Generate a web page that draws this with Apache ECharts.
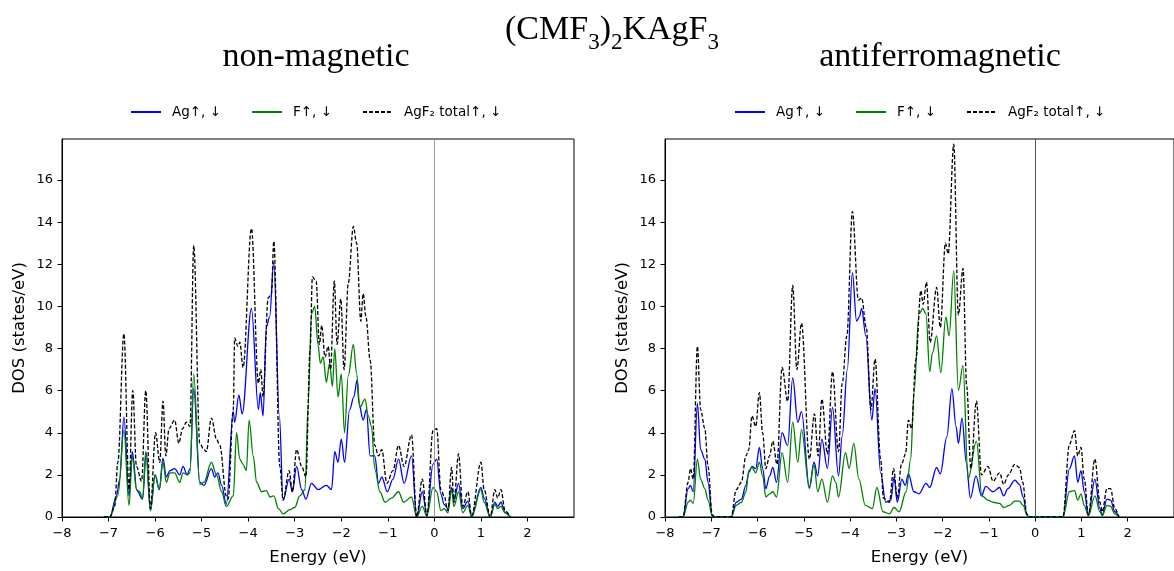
<!DOCTYPE html>
<html>
<head>
<meta charset="utf-8">
<script src="https://cdn.jsdelivr.net/npm/echarts@6/dist/echarts.min.js"></script>
<style>
  html, body { margin: 0; padding: 0; background: #fff; }
  #chart { width: 1174px; height: 571px; }
</style>
</head>
<body>
<div id="chart"></div>
<script>
// tick values
var xTicks = [-8, -7, -6, -5, -4, -3, -2, -1, 0, 1, 2];
var yTicks = [0, 2, 4, 6, 8, 10, 12, 14, 16];
var names = ['Ag\u2191, \u2193', 'F\u2191, \u2193', 'AgF\u2082 total\u2191, \u2193'];

// non-magnetic [energy, DOS]
var nmAg = [[-7.10,0],[-6.97,0],[-6.83,1.0],[-6.76,1.8],[-6.67,4.75],[-6.56,1.0],[-6.49,3.1],[-6.39,1.25],[-6.27,0.85],[-6.19,3.05],
  [-6.10,0.3],[-6.00,2.0],[-5.91,1.3],[-5.83,2.8],[-5.76,1.9],[-5.68,2.2],[-5.58,2.3],[-5.47,2.0],[-5.40,2.4],[-5.31,2.0],
  [-5.25,2.3],[-5.17,6.1],[-5.04,1.65],[-4.95,1.5],[-4.79,2.3],[-4.72,1.9],[-4.65,2.1],[-4.57,1.5],[-4.47,0.6],[-4.32,5.0],
  [-4.29,4.5],[-4.20,5.8],[-4.13,4.9],[-3.93,9.9],[-3.78,5.1],[-3.74,5.9],[-3.68,4.8],[-3.61,9.0],[-3.54,9.5],[-3.45,12.1],
  [-3.33,4.8],[-3.25,0.8],[-3.12,1.8],[-3.05,1.2],[-2.96,2.4],[-2.85,1.3],[-2.76,0.85],[-2.64,1.6],[-2.50,1.3],[-2.32,1.5],
  [-2.21,1.3],[-2.14,3.1],[-2.07,2.6],[-2.00,3.7],[-1.93,2.6],[-1.82,5.1],[-1.73,5.7],[-1.66,6.5],[-1.62,5.4],[-1.53,4.6],
  [-1.46,5.1],[-1.38,2.9],[-1.28,2.9],[-1.20,1.6],[-1.13,1.9],[-1.01,1.2],[-0.89,1.8],[-0.77,2.75],[-0.65,1.6],[-0.49,2.9],
  [-0.38,0],[-0.26,1.2],[-0.16,0.1],[-0.03,2.5],[0.05,2.75],[0.14,1.1],[0.21,0.6],[0.29,0.4],[0.37,1.4],[0.42,0.8],
  [0.52,1.6],[0.61,0.4],[0.72,0.75],[0.80,0.05],[1.00,1.4],[1.07,0.9],[1.20,0],[1.30,0.7],[1.36,0.5],[1.43,0.7],
  [1.52,0.2],[1.63,0]];
var nmF = [[-7.10,0],[-6.97,0],[-6.80,1.0],[-6.67,4.1],[-6.56,0.55],[-6.49,2.9],[-6.40,1.3],[-6.33,1.2],[-6.27,0.85],[-6.20,3.1],
  [-6.10,0.3],[-6.00,2.0],[-5.91,1.3],[-5.83,2.6],[-5.76,1.65],[-5.68,2.1],[-5.58,2.1],[-5.47,1.65],[-5.40,2.1],[-5.31,2.0],
  [-5.25,2.1],[-5.17,6.8],[-5.04,1.55],[-4.95,1.65],[-4.79,2.6],[-4.68,2.0],[-4.57,1.2],[-4.47,0.5],[-4.32,1.0],[-4.25,4.0],
  [-4.18,2.75],[-4.11,2.5],[-4.04,2.2],[-3.98,4.6],[-3.89,2.9],[-3.82,1.65],[-3.71,1.2],[-3.61,1.25],[-3.53,0.95],[-3.45,1.0],
  [-3.35,0.4],[-3.25,0.15],[-3.10,0.35],[-3.00,0.45],[-2.89,1.0],[-2.78,1.3],[-2.71,5.4],[-2.64,9.65],[-2.57,10.0],[-2.50,8.2],
  [-2.45,7.3],[-2.39,7.6],[-2.32,6.4],[-2.25,7.3],[-2.19,6.2],[-2.14,8.0],[-2.07,5.7],[-2.00,6.8],[-1.93,4.0],[-1.85,6.7],
  [-1.74,8.2],[-1.67,6.8],[-1.60,5.2],[-1.49,5.6],[-1.42,4.8],[-1.35,4.3],[-1.28,2.3],[-1.17,1.2],[-1.06,0.7],[-0.92,0.9],
  [-0.77,1.2],[-0.66,0.7],[-0.49,0.95],[-0.38,0],[-0.26,0.5],[-0.16,0.05],[-0.03,1.4],[0.05,1.2],[0.14,0.3],[0.21,0.4],
  [0.29,0.2],[0.37,1.3],[0.42,0.5],[0.52,1.2],[0.61,0.2],[0.72,0.55],[0.80,0],[1.00,1.3],[1.07,0.7],[1.20,0],
  [1.30,0.6],[1.36,0.4],[1.43,0.5],[1.52,0.2],[1.63,0]];
var nmTot = [[-7.10,0],[-6.97,0],[-6.87,0.5],[-6.80,2.6],[-6.67,8.7],[-6.56,1.3],[-6.48,6.0],[-6.40,2.4],[-6.29,1.7],[-6.20,6.0],
  [-6.10,0.4],[-5.99,4.0],[-5.90,2.6],[-5.83,5.5],[-5.77,2.9],[-5.70,4.2],[-5.58,4.6],[-5.49,3.5],[-5.41,4.2],[-5.33,4.5],
  [-5.25,4.3],[-5.17,12.9],[-5.04,3.5],[-4.95,3.2],[-4.90,3.1],[-4.79,4.7],[-4.68,3.7],[-4.61,3.4],[-4.47,1.0],[-4.43,0.85],
  [-4.32,5.1],[-4.29,8.5],[-4.22,8.1],[-4.18,8.3],[-4.11,7.1],[-3.93,13.7],[-3.78,6.35],[-3.73,7.0],[-3.68,5.7],[-3.57,10.4],
  [-3.50,10.6],[-3.45,13.1],[-3.32,2.4],[-3.25,0.8],[-3.12,2.2],[-3.05,1.2],[-2.96,3.2],[-2.85,2.4],[-2.76,1.9],[-2.67,7.9],
  [-2.62,11.4],[-2.54,11.2],[-2.47,8.2],[-2.42,9.1],[-2.35,7.6],[-2.28,8.1],[-2.23,7.0],[-2.15,11.2],[-2.09,8.2],[-2.01,10.35],
  [-1.94,7.0],[-1.85,11.1],[-1.74,13.8],[-1.67,13.0],[-1.58,9.3],[-1.53,10.6],[-1.47,9.5],[-1.38,7.45],[-1.28,3.4],[-1.20,2.9],
  [-1.13,3.2],[-1.02,1.6],[-0.89,2.2],[-0.77,3.4],[-0.65,2.4],[-0.49,3.9],[-0.38,0],[-0.26,1.8],[-0.16,0.05],[-0.03,4.1],
  [0.05,4.2],[0.14,1.3],[0.21,1.0],[0.29,0.3],[0.37,2.35],[0.42,0.7],[0.52,3.0],[0.61,0.5],[0.72,1.2],[0.80,0.05],
  [1.00,2.6],[1.07,1.3],[1.20,0],[1.30,1.3],[1.36,0.9],[1.43,1.3],[1.52,0.3],[1.63,0]];

// antiferromagnetic [energy, DOS]
var afAg = [[-7.70,0],[-7.61,0],[-7.50,1.35],[-7.45,1.5],[-7.39,1.2],[-7.30,5.4],[-7.23,3.2],[-7.14,2.75],[-7.07,1.65],[-6.98,0.1],
  [-6.93,0],[-6.57,0],[-6.46,0.7],[-6.35,0.85],[-6.25,1.5],[-6.19,2.1],[-6.12,2.4],[-6.04,2.3],[-5.96,3.3],[-5.89,2.3],
  [-5.82,1.35],[-5.74,1.95],[-5.67,2.35],[-5.59,1.65],[-5.47,4.0],[-5.35,3.4],[-5.24,6.6],[-5.13,4.5],[-5.05,5.0],[-4.88,1.4],
  [-4.78,2.6],[-4.70,1.95],[-4.61,3.7],[-4.49,2.3],[-4.38,5.2],[-4.25,1.95],[-4.17,3.85],[-4.06,7.0],[-3.95,11.6],[-3.86,9.3],
  [-3.80,9.5],[-3.75,9.9],[-3.66,8.6],[-3.53,4.6],[-3.46,6.1],[-3.34,2.1],[-3.23,0.7],[-3.12,0.8],[-3.05,1.9],[-2.98,0.7],
  [-2.88,1.8],[-2.81,1.5],[-2.74,2.05],[-2.62,1.2],[-2.51,1.1],[-2.36,1.6],[-2.28,1.4],[-2.13,2.35],[-2.05,2.05],[-1.91,3.8],
  [-1.80,6.1],[-1.71,4.3],[-1.66,3.5],[-1.58,4.7],[-1.49,2.6],[-1.40,0.9],[-1.28,1.95],[-1.16,1.0],[-1.07,1.45],[-0.91,1.2],
  [-0.77,1.4],[-0.68,1.0],[-0.59,1.35],[-0.44,1.75],[-0.34,1.55],[-0.26,0.95],[-0.18,0.1],[-0.14,0],[0.60,0],[0.74,2.3],
  [0.85,2.9],[0.92,1.65],[0.99,2.2],[1.06,1.2],[1.15,0.1],[1.29,1.8],[1.40,0.4],[1.45,0.1],[1.55,0.85],[1.63,0.8],
  [1.72,0.25],[1.81,0]];
var afF = [[-7.70,0],[-7.61,0],[-7.50,0.7],[-7.45,0.8],[-7.39,0.65],[-7.30,2.75],[-7.23,1.8],[-7.14,1.35],[-7.07,0.8],[-6.98,0.05],
  [-6.93,0],[-6.57,0],[-6.46,0.55],[-6.35,0.7],[-6.25,1.2],[-6.19,2.2],[-6.12,2.35],[-6.04,2.1],[-5.96,2.6],[-5.89,1.95],
  [-5.82,0.95],[-5.74,1.1],[-5.67,1.2],[-5.59,0.95],[-5.47,3.05],[-5.35,1.65],[-5.24,4.5],[-5.13,2.6],[-5.05,4.15],[-4.88,1.35],
  [-4.78,2.5],[-4.70,1.2],[-4.61,1.8],[-4.49,0.7],[-4.38,1.95],[-4.31,1.65],[-4.25,0.95],[-4.10,3.05],[-4.02,2.3],[-3.92,3.5],
  [-3.81,1.8],[-3.67,0.55],[-3.52,0.4],[-3.42,1.4],[-3.29,0.25],[-3.15,0.15],[-3.05,0.45],[-2.94,0.25],[-2.79,1.2],[-2.69,2.75],
  [-2.62,5.9],[-2.51,9.65],[-2.43,9.9],[-2.36,9.65],[-2.28,6.9],[-2.22,7.8],[-2.13,8.6],[-2.04,6.85],[-1.93,9.5],[-1.86,8.6],
  [-1.76,11.7],[-1.66,6.0],[-1.56,7.2],[-1.45,1.8],[-1.27,3.6],[-1.15,1.0],[-1.02,0.8],[-0.91,0.7],[-0.77,0.65],[-0.68,0.45],
  [-0.56,0.55],[-0.44,0.75],[-0.34,0.75],[-0.26,0.55],[-0.18,0.1],[-0.14,0],[0.60,0],[0.74,1.2],[0.85,1.25],[0.92,0.8],
  [0.99,1.1],[1.06,0.55],[1.15,0.05],[1.29,1.0],[1.40,0.25],[1.45,0.05],[1.55,0.55],[1.63,0.5],[1.72,0.15],[1.81,0]];
var afTot = [[-7.70,0],[-7.61,0],[-7.50,1.65],[-7.45,2.3],[-7.39,1.8],[-7.30,8.1],[-7.23,5.1],[-7.14,4.2],[-7.07,2.4],[-6.98,0.1],
  [-6.93,0],[-6.57,0],[-6.46,1.3],[-6.35,1.65],[-6.25,2.9],[-6.19,3.2],[-6.12,4.8],[-6.04,4.3],[-5.96,5.9],[-5.89,4.0],
  [-5.82,2.3],[-5.74,2.9],[-5.67,3.6],[-5.58,2.5],[-5.47,7.1],[-5.35,5.5],[-5.24,11.0],[-5.15,7.0],[-5.05,9.2],[-4.88,2.75],
  [-4.77,4.9],[-4.69,2.9],[-4.61,5.6],[-4.49,3.0],[-4.38,6.9],[-4.25,3.1],[-4.17,6.35],[-4.07,8.6],[-3.95,14.5],[-3.82,10.3],
  [-3.75,10.4],[-3.65,9.0],[-3.55,5.1],[-3.46,7.5],[-3.34,2.75],[-3.28,0.9],[-3.15,0.7],[-3.06,2.3],[-2.98,0.9],[-2.89,2.5],
  [-2.80,3.0],[-2.74,4.6],[-2.67,4.2],[-2.58,7.45],[-2.47,10.75],[-2.42,10.1],[-2.35,11.15],[-2.27,8.3],[-2.13,10.9],[-2.05,9.0],
  [-1.94,13.0],[-1.88,12.5],[-1.76,17.7],[-1.66,9.6],[-1.56,11.8],[-1.48,6.2],[-1.39,2.3],[-1.27,5.5],[-1.16,2.0],[-1.02,2.4],
  [-0.91,1.7],[-0.77,2.1],[-0.68,1.55],[-0.58,2.0],[-0.44,2.5],[-0.34,2.35],[-0.27,1.65],[-0.18,0.15],[-0.14,0],[0.60,0],
  [0.74,3.45],[0.85,4.1],[0.92,2.9],[0.99,3.3],[1.06,1.8],[1.15,0.1],[1.29,2.75],[1.40,0.7],[1.45,0.25],[1.55,1.35],
  [1.63,1.35],[1.72,0.4],[1.81,0]];

var chart = echarts.init(document.getElementById('chart'));

function minus(v) {
    return v < 0 ? '\u2212' + Math.abs(v) : String(v);
}

function xAxisFor(i) {
    return {
        type: 'value', gridIndex: i, min: -8, max: 3, interval: 1,
        name: 'Energy (eV)', nameLocation: 'middle', nameGap: 32,
        nameTextStyle: { fontSize: 16.5, color: '#000' },
        axisLine: { show: true, onZero: false, lineStyle: { color: '#000', width: 1 } },
        axisTick: { show: true, inside: false, length: 4.5, customValues: xTicks, lineStyle: { color: '#000' } },
        axisLabel: { customValues: xTicks, formatter: minus, fontSize: 13, color: '#000', margin: 10 },
        splitLine: { show: false }
    };
}

function yAxisFor(i) {
    return {
        type: 'value', gridIndex: i, min: 0, max: 17.95, interval: 2,
        name: 'DOS (states/eV)', nameLocation: 'middle', nameGap: 34,
        nameTextStyle: { fontSize: 16.5, color: '#000' },
        axisLine: { show: true, onZero: false, lineStyle: { color: '#000', width: 1 } },
        axisTick: { show: true, inside: false, length: 4.5, customValues: yTicks, lineStyle: { color: '#000' } },
        axisLabel: { customValues: yTicks, fontSize: 13, color: '#000', margin: 9 },
        splitLine: { show: false }
    };
}

function lineSeries(name, data, i, color, dashed, zeroColor) {
    var s = {
        name: name, type: 'line', data: data,
        xAxisIndex: i, yAxisIndex: i,
        symbol: 'none', smooth: 0.35, smoothMonotone: 'x',
        lineStyle: { color: color, width: 1.3, type: dashed ? [4, 2] : 'solid' },
        itemStyle: { color: color }
    };
    if (zeroColor) {
        s.markLine = {
            silent: true, symbol: ['none', 'none'], label: { show: false },
            lineStyle: { color: zeroColor, type: 'solid', width: 1 },
            data: [{ xAxis: 0 }]
        };
    }
    return s;
}

function legendAt(left) {
    return {
        data: names, left: left, top: 105, padding: 0,
        itemWidth: 30, itemHeight: 14, itemGap: 30,
        itemStyle: { opacity: 0 },
        textStyle: { fontSize: 13.5, color: '#000', padding: [0, 0, 0, 6] }
    };
}

var serif = 'Liberation Serif, Times New Roman, serif';

option = {
    animation: false,
    backgroundColor: '#fff',
    textStyle: { fontFamily: 'DejaVu Sans' },
    graphic: [
        {
            type: 'text', x: 612, y: 30,
            style: {
                text: '{n|(CMF}{s|3}{n|)}{s|2}{n|KAgF}{s|3}',
                align: 'center', verticalAlign: 'middle',
                rich: {
                    n: { fontFamily: serif, fontSize: 34, lineHeight: 48, fill: '#000' },
                    s: { fontFamily: serif, fontSize: 23, lineHeight: 28, verticalAlign: 'bottom', fill: '#000' }
                }
            }
        },
        {
            type: 'text', x: 316, y: 57,
            style: { text: 'non-magnetic', font: '34px ' + serif, fill: '#000', align: 'center', verticalAlign: 'middle' }
        },
        {
            type: 'text', x: 940, y: 57,
            style: { text: 'antiferromagnetic', font: '34px ' + serif, fill: '#000', align: 'center', verticalAlign: 'middle' }
        }
    ],
    legend: [legendAt(130), legendAt(734)],
    grid: [
        { left: 62, top: 139, width: 512, height: 382.5, show: true, borderColor: '#000', borderWidth: 1, containLabel: false },
        { left: 665, top: 139, width: 512, height: 382.5, show: true, borderColor: '#000', borderWidth: 1, containLabel: false }
    ],
    xAxis: [xAxisFor(0), xAxisFor(1)],
    yAxis: [yAxisFor(0), yAxisFor(1)],
    series: [
        lineSeries(names[0], nmAg, 0, '#0000ff', false),
        lineSeries(names[1], nmF, 0, '#008000', false),
        lineSeries(names[2], nmTot, 0, '#000000', true, '#999999'),
        lineSeries(names[0], afAg, 1, '#0000ff', false),
        lineSeries(names[1], afF, 1, '#008000', false),
        lineSeries(names[2], afTot, 1, '#000000', true, '#555555')
    ]
};
chart.setOption(option);
</script>
</body>
</html>
